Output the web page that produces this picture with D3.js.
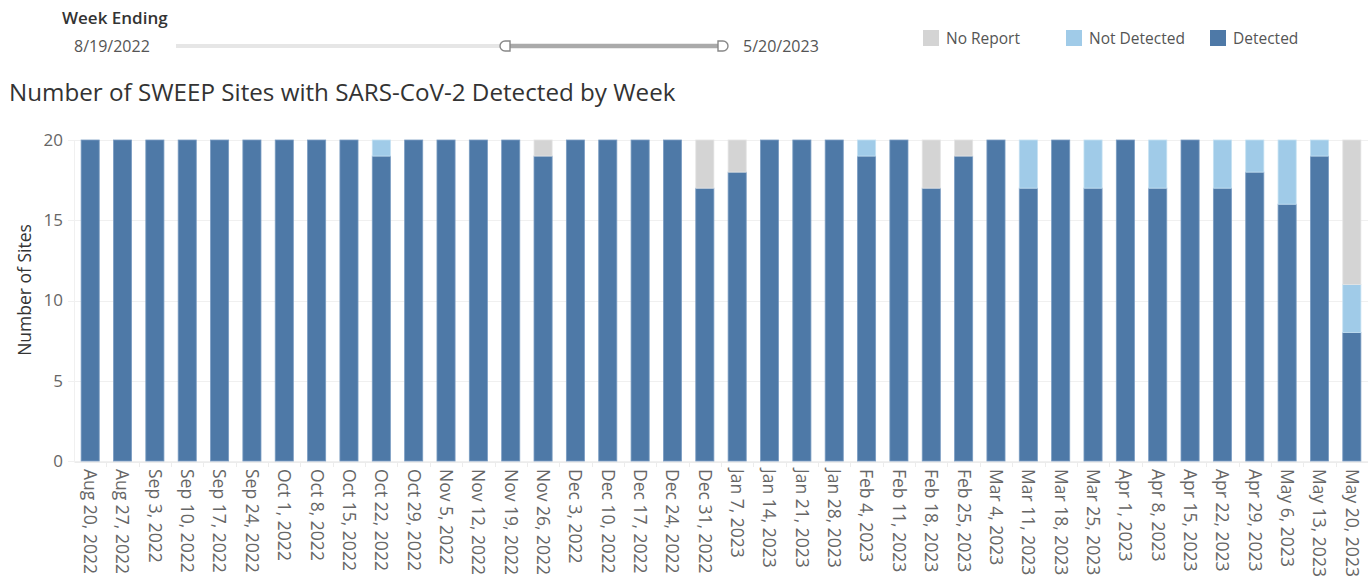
<!DOCTYPE html>
<html>
<head>
<meta charset="utf-8">
<script src="https://cdn.jsdelivr.net/npm/d3@7"></script>
<style>
  body { margin: 0; background: #fff; font-family: "Open Sans", "Noto Sans", sans-serif; }
</style>
</head>
<body>
<div id="chart"></div>
<script>
var svgWidth = 1368;
var svgHeight = 584;

// week ending dates (x categories)
var weeks = ["Aug 20, 2022", "Aug 27, 2022", "Sep 3, 2022", "Sep 10, 2022", "Sep 17, 2022",
  "Sep 24, 2022", "Oct 1, 2022", "Oct 8, 2022", "Oct 15, 2022", "Oct 22, 2022",
  "Oct 29, 2022", "Nov 5, 2022", "Nov 12, 2022", "Nov 19, 2022", "Nov 26, 2022",
  "Dec 3, 2022", "Dec 10, 2022", "Dec 17, 2022", "Dec 24, 2022", "Dec 31, 2022",
  "Jan 7, 2023", "Jan 14, 2023", "Jan 21, 2023", "Jan 28, 2023", "Feb 4, 2023",
  "Feb 11, 2023", "Feb 18, 2023", "Feb 25, 2023", "Mar 4, 2023", "Mar 11, 2023",
  "Mar 18, 2023", "Mar 25, 2023", "Apr 1, 2023", "Apr 8, 2023", "Apr 15, 2023",
  "Apr 22, 2023", "Apr 29, 2023", "May 6, 2023", "May 13, 2023", "May 20, 2023"];

// series values
var detected = [20, 20, 20, 20, 20, 20, 20, 20, 20, 19,
  20, 20, 20, 20, 19, 20, 20, 20, 20, 17,
  18, 20, 20, 20, 19, 20, 17, 19, 20, 17,
  20, 17, 20, 17, 20, 17, 18, 16, 19, 8];
var notDetected = [0, 0, 0, 0, 0, 0, 0, 0, 0, 1,
  0, 0, 0, 0, 0, 0, 0, 0, 0, 0,
  0, 0, 0, 0, 1, 0, 0, 0, 0, 3,
  0, 3, 0, 3, 0, 3, 2, 4, 1, 3];
var noReport = [0, 0, 0, 0, 0, 0, 0, 0, 0, 0,
  0, 0, 0, 0, 1, 0, 0, 0, 0, 3,
  2, 0, 0, 0, 0, 0, 3, 1, 0, 0,
  0, 0, 0, 0, 0, 0, 0, 0, 0, 9];

var yTicks = [0, 5, 10, 15, 20];
var seriesKeys = ["detected", "notDetected", "noReport"];
var seriesNames = ["Detected", "Not Detected", "No Report"];
var legendOrder = ["noReport", "notDetected", "detected"];
var colors = { detected: "#4e79a7", notDetected: "#a0cbe8", noReport: "#d4d4d4" };
var strokes = { detected: "#7a9cc2", notDetected: "#c4e0f2", noReport: "#e4e4e4" };

var data = weeks.map(function(w, i) {
  return { week: w, detected: detected[i], notDetected: notDetected[i], noReport: noReport[i] };
});

var svg = d3.select("#chart").append("svg")
  .attr("width", svgWidth)
  .attr("height", svgHeight);

var plotTop = 140, plotBottom = 461, plotLeft = 74, plotRight = 1368;

var x = d3.scaleBand()
  .domain(weeks)
  .range([plotLeft, plotRight])
  .paddingInner(0.44)
  .paddingOuter(0.22);

var y = d3.scaleLinear()
  .domain([0, 20])
  .range([plotBottom, plotTop]);

// gridlines
svg.append("g")
  .selectAll("line")
  .data(yTicks)
  .enter()
  .append("line")
  .attr("x1", 68)
  .attr("x2", plotRight)
  .attr("y1", d => Math.round(y(d)) + 0.5)
  .attr("y2", d => Math.round(y(d)) + 0.5)
  .attr("stroke", "#f0f0f0");

// y axis
var yAxis = svg.append("g")
  .attr("transform", `translate(${plotLeft}, 0)`)
  .call(d3.axisLeft(y).tickValues(yTicks).tickSize(0).tickPadding(11));
yAxis.select(".domain").attr("stroke", "#f0f0f0");
yAxis.selectAll("text")
  .attr("fill", "#666")
  .style("font-size", "17px")
  .style("font-family", "'Open Sans', sans-serif");

svg.append("text")
  .attr("transform", `translate(31, 290) rotate(-90)`)
  .attr("text-anchor", "middle")
  .attr("fill", "#333")
  .style("font-size", "17.5px")
  .text("Number of Sites");

// stacked bars
var stack = d3.stack().keys(seriesKeys);
var layers = stack(data);

svg.append("g")
  .selectAll("g")
  .data(layers)
  .enter()
  .append("g")
  .attr("fill", d => colors[d.key])
  .attr("stroke", d => strokes[d.key])
  .attr("stroke-width", 0.8)
  .selectAll("rect")
  .data(d => d.filter(p => p[1] > p[0]))
  .enter()
  .append("rect")
  .attr("x", d => x(d.data.week))
  .attr("y", d => y(d[1]))
  .attr("width", x.bandwidth())
  .attr("height", d => y(d[0]) - y(d[1]));

// x axis
var xAxis = svg.append("g")
  .attr("transform", `translate(0, ${plotBottom + 1})`)
  .call(d3.axisBottom(x).tickSize(0).tickPadding(0));
xAxis.select(".domain").attr("stroke", "#ececec");
xAxis.selectAll("text")
  .attr("transform", "rotate(90)")
  .attr("text-anchor", "start")
  .attr("x", 7)
  .attr("y", 0)
  .attr("dy", "0.35em")
  .attr("fill", "#666")
  .style("font-size", "17.5px")
  .style("font-family", "'Open Sans', sans-serif");

// band separators below the axis
svg.append("g")
  .selectAll("line")
  .data(weeks.slice(1))
  .enter()
  .append("line")
  .attr("x1", d => Math.round(x(d) - x.step() * x.paddingInner() / 2) + 0.5)
  .attr("x2", d => Math.round(x(d) - x.step() * x.paddingInner() / 2) + 0.5)
  .attr("y1", plotBottom + 1)
  .attr("y2", plotBottom + 6)
  .attr("stroke", "#ececec");

// title
svg.append("text")
  .attr("x", 9)
  .attr("y", 101)
  .attr("fill", "#333")
  .style("font-size", "24.2px")
  .text("Number of SWEEP Sites with SARS-CoV-2 Detected by Week");

// date range filter
svg.append("text")
  .attr("x", 62)
  .attr("y", 24)
  .attr("fill", "#333")
  .style("font-size", "17px")
  .style("font-weight", 600)
  .text("Week Ending");

svg.append("text")
  .attr("x", 74)
  .attr("y", 51.5)
  .attr("fill", "#555")
  .style("font-size", "16px")
  .text("8/19/2022");

svg.append("text")
  .attr("x", 743)
  .attr("y", 51.5)
  .attr("fill", "#555")
  .style("font-size", "16px")
  .text("5/20/2023");

var slider = d3.scaleLinear().domain([0, 1]).range([176, 724]);
svg.append("line")
  .attr("x1", slider(0)).attr("x2", 500)
  .attr("y1", 46).attr("y2", 46)
  .attr("stroke", "#e6e6e6").attr("stroke-width", 4);
svg.append("line")
  .attr("x1", 505).attr("x2", 720)
  .attr("y1", 46).attr("y2", 46)
  .attr("stroke", "#aaa").attr("stroke-width", 4.5);
// handles
svg.append("path")
  .attr("d", "M510,41 L505,41 A5,5 0 0 0 505,51 L510,51 Z")
  .attr("fill", "#fff").attr("stroke", "#888").attr("stroke-width", 1.4);
svg.append("path")
  .attr("d", "M718,41 L723,41 A5,5 0 0 1 723,51 L718,51 Z")
  .attr("fill", "#fff").attr("stroke", "#888").attr("stroke-width", 1.4);

// legend
var legendX = [923, 1066, 1210];
var legend = svg.append("g")
  .selectAll("g")
  .data(legendOrder)
  .enter()
  .append("g")
  .attr("transform", (d, i) => `translate(${legendX[i]}, 30)`);
legend.append("rect")
  .attr("width", 16)
  .attr("height", 16)
  .attr("fill", d => colors[d]);
legend.append("text")
  .attr("x", 23)
  .attr("y", 14)
  .attr("fill", "#555")
  .style("font-size", "15.5px")
  .text(d => seriesNames[seriesKeys.indexOf(d)]);
</script>
</body>
</html>
